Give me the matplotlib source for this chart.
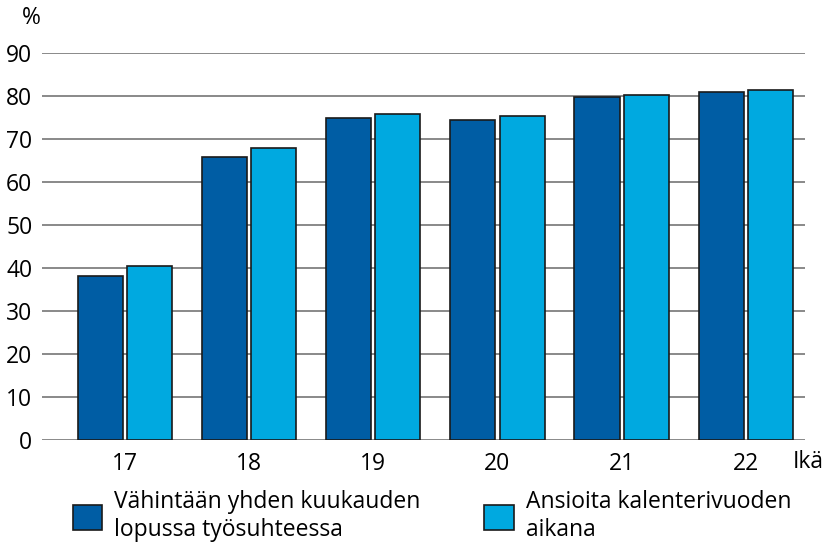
import numpy as np
import matplotlib.pyplot as plt
from matplotlib.patches import Patch

plt.rcParams['font.family'] = ['Open Sans', 'DejaVu Sans']

ages = ['17', '18', '19', '20', '21', '22']
series_names = ['Vähintään yhden kuukauden\nlopussa työsuhteessa',
                'Ansioita kalenterivuoden\naikana']
month_end = [38.1, 65.8, 74.9, 74.5, 79.7, 80.9]
calendar_year = [40.5, 67.8, 75.7, 75.2, 80.2, 81.3]
colors = ['#005da4', '#00a9e0']
fs = 16.5

fig = plt.figure(figsize=(8.25, 5.45), dpi=100)
ax = fig.add_axes([0.051, 0.193, 0.925, 0.71])

x = np.arange(len(ages))
w = 0.363
off = 0.198
ax.bar(x - off, month_end, w, color=colors[0], edgecolor='#1a1a1a', linewidth=1.2, zorder=3)
ax.bar(x + off, calendar_year, w, color=colors[1], edgecolor='#1a1a1a', linewidth=1.2, zorder=3)

ax.set_ylim(0, 90)
ax.set_xlim(-0.67, 5.48)
ax.set_yticks(range(0, 91, 10))
ax.yaxis.grid(True, color='#808080', linewidth=1.3)
ax.set_axisbelow(True)
for s in ax.spines.values():
    s.set_visible(False)
ax.tick_params(axis='both', length=0, labelsize=fs, colors='black')
ax.tick_params(axis='y', pad=7)
ax.tick_params(axis='x', pad=9)
ax.set_xticks(x)
ax.set_xticklabels(ages)

fig.text(22 / 825, 1 - 18 / 545, '%', fontsize=fs, va='center', ha='left')
fig.text(793 / 825, 1 - 462 / 545, 'Ikä', fontsize=fs, va='center', ha='left')

handles = [Patch(facecolor=c, edgecolor='#1a1a1a', linewidth=1.2) for c in colors]
fig.legend(handles, series_names, loc='upper left', bbox_to_anchor=(0.088, 0.101),
           ncol=2, frameon=False, fontsize=fs, handlelength=1.3, handleheight=1.3,
           handletextpad=0.5, columnspacing=2.8, borderaxespad=0, borderpad=0,
           labelspacing=0.2)

fig.savefig('out.png', dpi=100)
